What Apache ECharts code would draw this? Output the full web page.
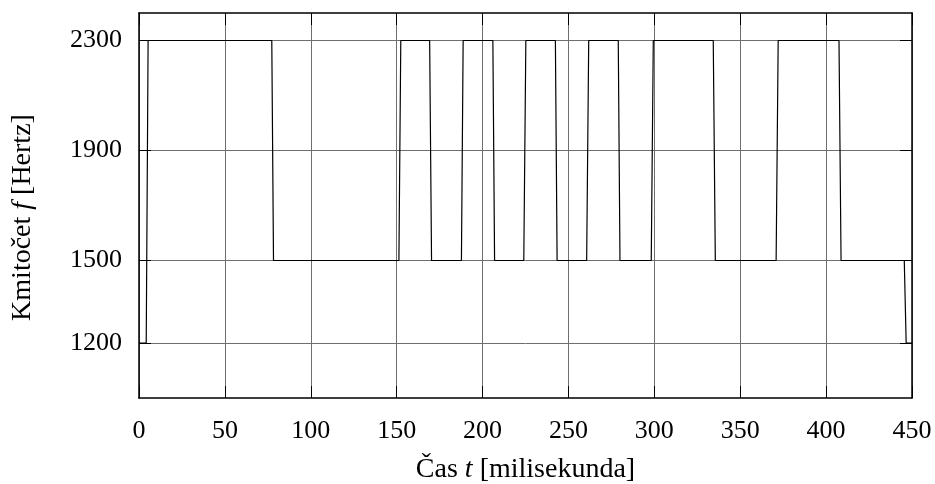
<!DOCTYPE html>
<html>
<head>
<meta charset="utf-8">
<style>
  html, body { margin: 0; padding: 0; background: #fff; }
  #chart { width: 935px; height: 484px; }
</style>
<script src="https://cdn.jsdelivr.net/npm/echarts@6/dist/echarts.min.js"></script>
</head>
<body>
<div id="chart"></div>
<script>
// Frequency-shift keyed tone sequence: time (ms) vs. tone frequency (Hz)
const timesMs = [
  0, 4.2, 5.3, 77.3, 78.3, 151.3, 152.4, 169.2, 170.3, 187.7, 188.7,
  206.0, 207.0, 224.0, 225.2, 242.4, 243.4, 260.6, 261.8, 279.0, 280.0,
  298.2, 299.4, 334.3, 335.5, 370.9, 372.1, 407.5, 408.7, 445.5, 446.6, 450
];
const freqHz = [
  1200, 1200, 2300, 2300, 1500, 1500, 2300, 2300, 1500, 1500, 2300,
  2300, 1500, 1500, 2300, 2300, 1500, 1500, 2300, 2300, 1500,
  1500, 2300, 2300, 1500, 1500, 2300, 2300, 1500, 1500, 1200, 1200
];
const freqTicks = [1200, 1500, 1900, 2300];
const timeRange = [0, 450];
const timeStep = 50;
const freqRange = [1000, 2400];

const FONT = 'Liberation Serif';
const plain = v => String(v);
const frame = { show: true, onZero: false, lineStyle: { color: '#000', width: 1.5 } };
const tickStyle = { show: true, inside: true, length: 12, lineStyle: { color: '#000', width: 1 } };
const gridLine = { show: true, lineStyle: { color: '#6e6e6e', width: 1, type: 'solid' } };
const nameStyle = {
  color: '#000', fontFamily: FONT, fontSize: 28,
  rich: { i: { fontFamily: FONT, fontSize: 28, fontStyle: 'italic', color: '#000' } }
};

const chart = echarts.init(document.getElementById('chart'), null, { renderer: 'canvas' });

chart.setOption({
  animation: false,
  backgroundColor: '#fff',
  grid: { left: 139, right: 23, top: 13, bottom: 86, containLabel: false, outerBoundsMode: 'none' },
  xAxis: [
    {
      type: 'value', position: 'bottom',
      min: timeRange[0], max: timeRange[1], interval: timeStep,
      axisLine: frame, axisTick: tickStyle, splitLine: gridLine,
      axisLabel: { color: '#000', fontFamily: FONT, fontSize: 26, margin: 20, formatter: plain },
      name: 'Čas {i|t} [milisekunda]',
      nameLocation: 'middle', nameGap: 58,
      nameTextStyle: nameStyle
    },
    {
      type: 'value', position: 'top',
      min: timeRange[0], max: timeRange[1], interval: timeStep,
      axisLine: frame, axisTick: tickStyle,
      axisLabel: { show: false }, splitLine: { show: false }
    }
  ],
  yAxis: [
    {
      type: 'value', position: 'left',
      min: freqRange[0], max: freqRange[1],
      axisLine: frame,
      axisTick: Object.assign({}, tickStyle, { customValues: freqTicks }),
      axisLabel: { customValues: freqTicks, color: '#000', fontFamily: FONT, fontSize: 26, margin: 17, formatter: plain },
      splitLine: gridLine,
      name: 'Kmitočet {i|f} [Hertz]',
      nameLocation: 'middle', nameRotate: 90, nameGap: 102,
      nameTextStyle: Object.assign({ padding: [0, 24, 0, 0] }, nameStyle)
    },
    {
      type: 'value', position: 'right',
      min: freqRange[0], max: freqRange[1],
      axisLine: frame,
      axisTick: Object.assign({}, tickStyle, { customValues: freqTicks }),
      axisLabel: { show: false }, splitLine: { show: false }
    }
  ],
  series: [
    {
      type: 'line',
      xAxisIndex: 0, yAxisIndex: 0,
      data: timesMs.map((t, i) => [t, freqHz[i]]),
      showSymbol: false,
      symbol: 'none',
      lineStyle: { color: '#000', width: 1.2 },
      z: 5
    }
  ]
});
</script>
</body>
</html>
